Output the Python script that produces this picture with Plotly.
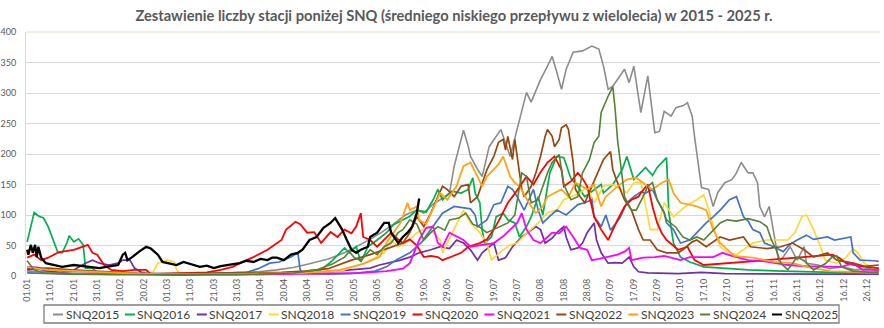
import plotly.graph_objects as go

# ---------------- data (day of year, value) ----------------
tick_labels = ["01.01", "11.01", "21.01", "31.01", "10.02", "20.02", "01.03", "11.03", "21.03", "31.03",
               "10.04", "20.04", "30.04", "10.05", "20.05", "30.05", "09.06", "19.06", "29.06", "09.07",
               "19.07", "29.07", "08.08", "18.08", "28.08", "07.09", "17.09", "27.09", "07.10", "17.10",
               "27.10", "06.11", "16.11", "26.11", "06.12", "16.12", "26.12"]

snq2015 = [(1,8),(10,6),(20,5),(30,4),(40,3),(50,3),(60,2),(70,3),(80,4),(90,5),(100,7),(108,10),(115,14),(122,20),
           (130,28),(137,38),(143,50),(148,60),(153,72),(158,85),(163,100),(168,108),(171,103),(175,118),(178,125),
           (182,136),(184,180),(188,239),(190,213),(191,196),(194,175),(196,163),(199,212),(204,240),(208,196),
           (211,240),(215,301),(217,285),(221,322),(224,344),(226,360),(228,334),(230,306),(232,339),(235,367),
           (239,369),(243,377),(246,372),(248,344),(250,306),(252,311),(254,322),(257,339),(259,317),(261,344),
           (264,268),(267,328),(270,235),(272,237),(274,270),(277,262),(279,276),(282,279),(284,284),(286,262),
           (287,229),(289,174),(290,145),(293,142),(295,114),(297,137),(300,153),(303,158),(305,169),(307,186),
           (310,169),(312,169),(314,153),(315,114),(317,97),(319,114),(321,71),(323,26),(325,31),(328,48),(331,26),
           (334,48),(335,21),(340,18),(345,12),(350,15),(356,10),(362,12),(366,8)]

snq2016 = [(1,56),(4,104),(6,98),(8,95),(10,81),(12,59),(14,40),(16,38),(18,54),(19,66),(21,56),(23,61),(25,51),
           (26,13),(29,13),(31,6),(35,4),(45,3),(60,2),(80,2),(100,3),(110,4),(120,6),(127,10),(132,26),(137,46),
           (139,38),(142,48),(144,23),(147,48),(151,59),(155,71),(158,84),(162,92),(165,98),(168,108),(172,105),
           (175,125),(177,142),(179,125),(183,139),(187,136),(190,142),(192,161),(193,136),(195,120),(196,75),
           (197,54),(200,64),(202,97),(205,103),(207,92),(210,87),(212,64),(215,81),(217,97),(220,130),(222,100),
           (225,169),(228,196),(231,194),(234,160),(237,147),(240,130),(244,142),(247,150),(248,136),(252,150),
           (256,174),(258,196),(261,158),(264,169),(266,178),(269,165),(271,178),(273,186),(275,194),(276,104),
           (278,54),(281,31),(285,23),(291,15),(300,13),(310,10),(325,8),(340,6),(355,5),(366,7)]

snq2017 = [(1,10),(5,12),(10,8),(15,6),(20,8),(26,21),(29,26),(32,21),(36,18),(40,21),(42,26),(45,26),(47,13),
           (50,6),(55,3),(70,2),(90,2),(110,3),(125,5),(135,8),(142,10),(148,13),(152,18),(156,21),(161,26),
           (165,31),(169,38),(174,43),(178,48),(182,45),(185,59),(188,54),(191,43),(194,26),(196,38),(201,54),
           (203,26),(206,30),(209,48),(213,64),(217,76),(219,81),(221,76),(223,54),(226,62),(228,71),(231,81),
           (232,64),(234,43),(237,46),(239,54),(241,71),(244,87),(245,59),(247,38),(250,21),(253,22),(256,21),
           (259,31),(261,15),(263,7),(267,5),(280,4),(290,6),(300,4),(320,3),(340,3),(366,3)]

snq2018 = [(1,5),(10,4),(20,3),(30,3),(40,2),(50,3),(55,7),(57,21),(61,26),(64,23),(65,10),(67,3),(80,2),(100,2),
           (120,3),(135,8),(145,20),(150,30),(154,38),(157,59),(160,48),(164,56),(168,71),(173,80),(178,59),
           (179,38),(183,70),(188,108),(191,87),(195,71),(198,54),(200,26),(205,43),(208,51),(211,54),(215,70),
           (220,87),(224,104),(228,108),(231,125),(238,136),(241,147),(244,120),(248,147),(252,150),(258,136),
           (261,153),(264,153),(267,97),(268,76),(271,76),(274,120),(278,97),(284,117),(288,125),(291,133),
           (293,110),(296,70),(298,48),(301,40),(305,35),(312,54),(318,59),(327,59),(330,71),(333,97),(335,100),
           (338,76),(341,48),(343,26),(348,21),(352,31),(355,45),(357,38),(360,20),(363,15),(366,10)]

snq2019 = [(1,5),(10,4),(20,3),(40,3),(60,3),(80,4),(95,6),(100,12),(105,21),(109,23),(114,31),(117,38),(118,10),
           (120,4),(130,3),(140,4),(150,8),(155,15),(159,26),(165,38),(170,55),(174,76),(179,103),(184,114),
           (188,112),(191,110),(193,100),(194,81),(198,92),(201,117),(204,120),(207,147),(209,142),(211,130),
           (214,108),(218,142),(220,108),(222,87),(225,98),(228,108),(232,100),(237,117),(240,120),(243,125),
           (244,97),(247,81),(249,100),(251,75),(255,95),(258,120),(261,130),(264,138),(266,136),(269,142),
           (271,125),(274,104),(275,87),(278,76),(281,54),(285,59),(288,71),(292,87),(295,97),(298,108),(302,125),
           (305,130),(308,97),(310,90),(312,76),(315,71),(317,54),(321,48),(325,40),(328,52),(331,59),(335,67),
           (338,60),(344,64),(347,59),(351,62),(354,64),(355,38),(358,26),(364,25),(366,24)]

snq2020 = [(1,30),(4,35),(7,26),(10,30),(14,38),(16,40),(21,43),(25,48),(27,51),(29,38),(31,35),(34,18),(37,10),
           (42,8),(47,10),(52,10),(54,3),(60,4),(70,5),(78,6),(84,10),(89,15),(95,26),(98,31),(104,43),(107,51),
           (110,59),(112,76),(116,89),(118,85),(121,71),(124,72),(127,54),(131,72),(134,64),(137,76),(140,70),
           (142,81),(144,103),(145,64),(148,59),(151,48),(154,60),(157,71),(160,60),(162,54),(165,60),(168,50),
           (171,31),(174,33),(177,31),(179,26),(183,32),(187,38),(190,48),(195,54),(198,60),(201,76),(204,97),
           (207,120),(210,135),(212,147),(215,163),(218,150),(221,170),(224,186),(227,196),(230,174),(231,147),
           (234,155),(237,169),(239,160),(241,147),(244,97),(247,76),(250,59),(252,76),(254,92),(257,114),
           (260,125),(263,130),(264,136),(267,150),(269,114),(271,87),(273,70),(275,59),(280,43),(284,48),
           (287,26),(291,18),(302,21),(317,26),(331,30),(346,35),(349,30),(352,21),(358,16),(366,13)]

snq2021 = [(1,15),(5,14),(10,10),(20,8),(30,6),(40,5),(50,4),(70,3),(90,3),(110,3),(130,4),(145,5),(155,8),
           (162,12),(165,21),(169,59),(172,79),(175,81),(177,54),(179,48),(182,71),(185,65),(188,59),(191,48),
           (195,50),(201,54),(205,65),(208,76),(211,87),(213,103),(215,76),(218,59),(221,54),(224,64),(226,71),
           (229,70),(232,81),(235,64),(238,46),(241,43),(243,26),(246,28),(250,31),(254,35),(257,40),(259,46),
           (260,26),(265,30),(270,31),(274,33),(281,26),(285,31),(295,31),(299,38),(303,33),(310,26),(317,24),
           (327,18),(335,16),(345,16),(350,15),(355,21),(359,10),(366,10)]

snq2022 = [(1,12),(10,13),(20,10),(30,8),(40,5),(50,4),(60,4),(70,4),(80,5),(90,5),(100,5),(110,6),(120,8),
           (130,12),(140,26),(148,35),(157,48),(162,54),(165,71),(168,97),(171,81),(174,103),(177,130),(179,147),
           (181,142),(184,130),(187,147),(190,150),(191,120),(194,130),(198,174),(201,196),(203,219),(205,224),
           (206,207),(207,229),(209,191),(210,224),(211,196),(213,142),(214,130),(217,147),(219,169),(221,196),
           (223,229),(224,240),(226,229),(227,212),(229,224),(230,243),(232,248),(233,240),(235,186),(236,142),
           (238,130),(240,120),(243,147),(246,174),(248,191),(251,204),(252,174),(254,153),(257,125),(260,108),
           (263,76),(265,59),(268,59),(271,43),(275,38),(280,38),(282,43),(286,56),(288,59),(292,48),(298,64),
           (302,59),(308,64),(311,48),(318,45),(324,48),(329,54),(334,43),(338,31),(344,38),(348,26),(355,21),
           (360,16),(366,18)]

snq2023 = [(1,15),(5,12),(10,10),(20,8),(30,6),(40,5),(50,4),(60,3),(80,3),(100,4),(120,5),(135,10),(145,20),
           (152,31),(155,54),(158,71),(161,87),(164,120),(165,108),(168,114),(169,92),(172,85),(175,110),
           (178,136),(181,125),(185,147),(188,180),(191,186),(194,163),(196,147),(198,163),(201,174),(203,183),
           (205,196),(206,186),(208,163),(210,153),(212,147),(216,120),(219,103),(222,114),(224,130),(227,136),
           (230,142),(233,130),(236,153),(241,142),(244,150),(247,114),(249,130),(254,147),(258,158),(262,161),
           (264,155),(267,147),(269,142),(273,153),(276,158),(278,136),(281,120),(285,117),(288,114),(292,108),
           (295,76),(298,54),(301,43),(304,33),(312,30),(321,23),(329,21),(336,14),(345,8),(355,6),(366,5)]

snq2024 = [(1,25),(4,10),(8,5),(20,3),(40,2),(60,2),(80,2),(100,3),(115,5),(125,10),(132,20),(137,31),(139,40),
           (141,31),(144,25),(148,43),(151,35),(154,48),(157,54),(160,71),(162,76),(165,92),(168,85),(171,59),
           (174,71),(177,81),(180,75),(182,92),(186,95),(189,103),(192,85),(195,80),(198,71),(202,78),(207,87),
           (210,100),(213,169),(215,163),(217,120),(220,125),(222,147),(224,169),(226,186),(229,199),(231,150),
           (234,125),(237,130),(239,169),(242,191),(244,219),(246,229),(247,268),(250,295),(252,310),(253,273),
           (254,224),(256,163),(257,130),(260,108),(262,108),(265,130),(267,147),(269,153),(271,125),(274,104),
           (275,92),(279,80),(282,64),(285,59),(288,64),(291,59),(295,76),(298,87),(301,92),(305,90),(310,94),
           (315,89),(318,81),(320,59),(322,43),(324,21),(327,10),(331,31),(334,25),(338,10),(343,20),(346,31),
           (348,33),(350,15),(355,8),(366,5)]

snq2025 = [(1,43),(1.5,35),(2.6,51),(3.4,38),(4.4,51),(5.1,31),(5.8,48),(7,30),(9,21),(12,18),(16,15),(21,18),
           (27,15),(32,13),(35,15),(40,18),(42,35),(43,38),(44,26),(46,31),(49,40),(52,48),(54,45),(57,35),(59,23),
           (62,21),(65,18),(68,23),(71,20),(75,15),(78,17),(81,13),(84,16),(87,18),(92,21),(95,25),(98,23),
           (101,28),(104,26),(106,30),(108,30),(111,26),(114,35),(117,38),(119,43),(122,59),(125,64),(128,79),
           (131,87),(133,95),(134,89),(136,76),(138,59),(140,43),(142,38),(144,43),(147,48),(148,64),(151,71),
           (154,87),(156,87),(157,71),(160,54),(162,64),(164,71),(166,81),(168,103),(169,127)]

series_names = ["SNQ2015", "SNQ2016", "SNQ2017", "SNQ2018", "SNQ2019", "SNQ2020",
                "SNQ2021", "SNQ2022", "SNQ2023", "SNQ2024", "SNQ2025"]
series_data = [snq2015, snq2016, snq2017, snq2018, snq2019, snq2020,
               snq2021, snq2022, snq2023, snq2024, snq2025]

# ---------------- styles ----------------
colors = ["#8C8C8C", "#00B050", "#7030A0", "#FFD633", "#4472C4", "#FF0000",
          "#FF00FF", "#984710", "#FFA31A", "#548235", "#000000"]
widths = [1.6, 1.7, 1.7, 1.6, 1.7, 1.8, 1.8, 1.7, 1.8, 1.6, 2.3]

FONT = "Lato"
W, H = 884, 328
ML, MR, MT, MB = 26, 4, 32, 52
PW, PH = W - ML - MR, H - MT - MB

fig = go.Figure()
for name, data, col, wd in zip(series_names, series_data, colors, widths):
    xs = [d for d, v in data]
    ys = [v for d, v in data]
    fig.add_trace(go.Scatter(x=xs, y=ys, mode="lines", name=name,
                             line=dict(color=col, width=wd), showlegend=False))

def px_x(p):
    return (p - ML) / PW

def px_y(p):
    return (H - MB - p) / PH

# custom compact legend (Excel style)
shapes = [dict(type="rect", xref="paper", yref="paper",
               x0=px_x(44), x1=px_x(839), y0=px_y(323), y1=px_y(305),
               line=dict(color="#7F7F7F", width=1.3), fillcolor="rgba(0,0,0,0)", layer="above"),
          dict(type="line", xref="paper", yref="paper", x0=0, x1=1, y0=1, y1=1,
               line=dict(color="#D7E4BD", width=1), layer="below")]
annotations = []
start, step, ly = 53, 71.9, 314.5
for i, (name, col) in enumerate(zip(series_names, colors)):
    x0 = start + i * step
    shapes.append(dict(type="line", xref="paper", yref="paper",
                       x0=px_x(x0), x1=px_x(x0 + 10), y0=px_y(ly), y1=px_y(ly),
                       line=dict(color=col, width=2)))
    annotations.append(dict(xref="paper", yref="paper", x=px_x(x0 + 10.5), y=px_y(ly),
                            xanchor="left", yanchor="middle", showarrow=False, text=name,
                            font=dict(family=FONT, size=12, color="#404040")))

fig.update_layout(
    width=W, height=H,
    margin=dict(l=ML, r=MR, t=MT, b=MB, autoexpand=False),
    plot_bgcolor="white", paper_bgcolor="white",
    showlegend=False,
    title=dict(text="<b>Zestawienie liczby stacji poniżej SNQ (średniego niskiego przepływu z wielolecia) w 2015 - 2025 r.</b>",
               x=454 / W, xanchor="center", y=1 - 16 / H, yanchor="middle", yref="container",
               font=dict(family=FONT, size=14.7, color="#595959")),
    xaxis=dict(range=[0.5, 366.5], tickmode="array", tickvals=list(range(1, 362, 10)), ticktext=tick_labels,
               tickangle=-90, showgrid=False, zeroline=False, showline=False, ticks="",
               tickfont=dict(family=FONT, size=9, color="#595959")),
    yaxis=dict(range=[0, 400], dtick=50, gridcolor="#D9D9D9", gridwidth=1, zeroline=False,
               showline=True, linecolor="#D7E4BD", linewidth=1, ticks="", ticklabelstandoff=7,
               tickfont=dict(family=FONT, size=9, color="#595959")),
    shapes=shapes, annotations=annotations,
)

fig.write_html("out.html")
